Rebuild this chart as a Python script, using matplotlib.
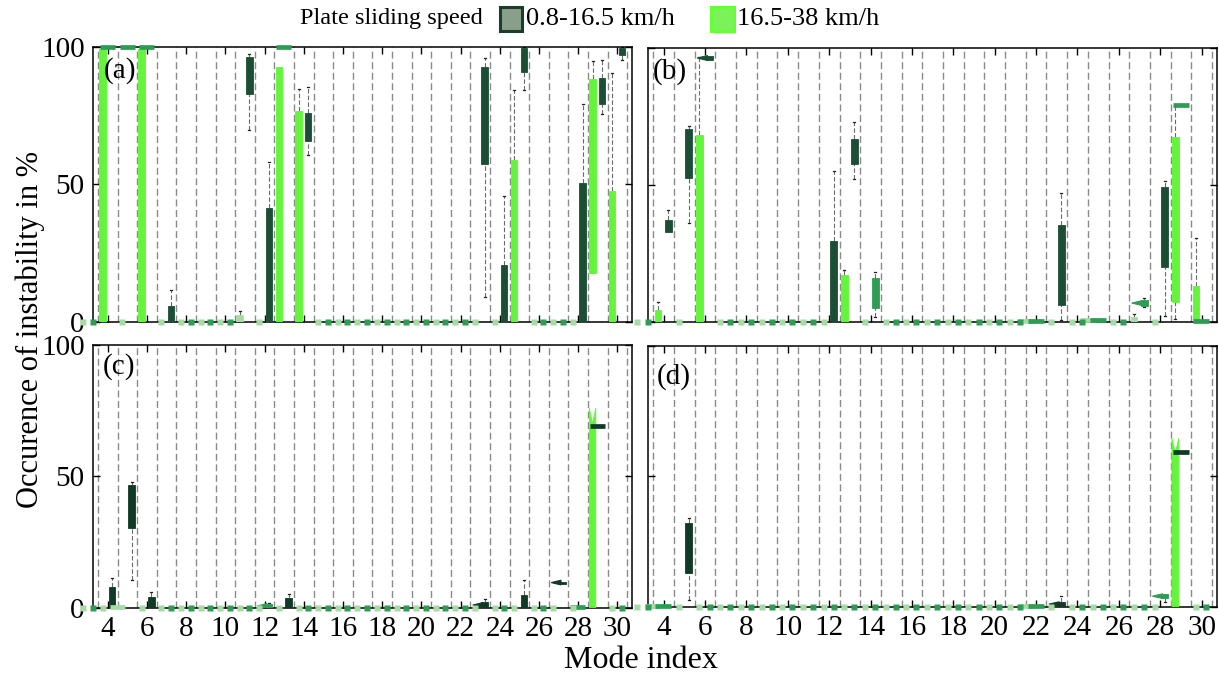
import matplotlib
matplotlib.use("Agg")
import matplotlib.pyplot as plt
from matplotlib.patches import Rectangle, Polygon

plt.rcParams['font.family'] = ['Liberation Serif', 'DejaVu Serif']

MODES = list(range(3, 31))
XTICKS = list(range(4, 31, 2))
YTICKS = [0, 50, 100]

# Boxes as (q1, q3, lower whisker, upper whisker); modes not listed stay at 0 %.
# Panel (a)
A_LOW = {4: (100, 100, 100, 100), 5: (100, 100, 100, 100), 6: (100, 100, 100, 100),
         7: (0, 5.5, 0, 11.5), 11: (83, 96.3, 70, 97.5), 12: (0, 41.5, 0, 58),
         13: (100, 100, 100, 100), 14: (66, 76, 60.6, 85.4), 23: (57.6, 92.7, 9, 96),
         24: (0, 20.7, 0, 45.7), 25: (91, 99.6, 84.4, 100), 28: (0, 50.4, 0, 79.3),
         29: (79.3, 88.8, 75.6, 95.4), 30: (97.2, 99.6, 95.5, 100)}
A_HIGH = {4: (0, 99.3, 0, 99.3), 6: (0, 99.3, 0, 99.3), 11: (0, 2.5, 0, 4),
          13: (0, 92.7, 0, 92.7), 14: (0, 76.8, 0, 84.7), 25: (0, 58.9, 0, 84.4),
          29: (17.7, 88.4, 17.7, 95), 30: (0, 47.7, 0, 90.5)}
# Panel (b)
B_LOW = {4: (32.8, 37.1, 32.8, 41), 5: (52.6, 70.4, 36, 71.6), 6: (95.6, 97.3, 95.4, 97.3),
         12: (0, 29.4, 0, 55), 13: (57.5, 66.7, 52.3, 73), 14: (4.9, 15.9, 1.8, 18.1),
         22: (0.3, 0.3, 0.3, 0.3), 23: (6.1, 35.5, 0.5, 47), 25: (0.5, 0.5, 0.5, 0.5),
         27: (5.8, 7.7, 5.3, 8.6), 28: (20, 49.2, 2, 51.4), 29: (79.2, 79.2, 79.2, 79.2),
         30: (0.3, 0.3, 0.3, 0.3)}
B_HIGH = {4: (0, 4.3, 0, 7), 6: (0, 68.2, 0, 97), 13: (0, 17.1, 0, 19),
          22: (0.3, 0.3, 0.3, 0.3), 25: (0.5, 0.5, 0.5, 0.5), 27: (0, 1.6, 0, 2.8),
          29: (7.3, 67.7, 0.9, 79), 30: (0, 13.1, 0, 30.6)}
# Panel (c)
C_LOW = {4: (0, 8, 0, 11.2), 5: (30.2, 46.7, 10.5, 47.7), 6: (0, 4.2, 0, 5.9),
         12: (0, 1.3, 0, 1.7), 13: (0, 3.6, 0, 5.2), 23: (0, 2, 0, 3.2),
         25: (0, 4.8, 0, 10.5), 27: (9.2, 9.9, 9.2, 9.9), 28: (0.4, 0.4, 0.4, 0.4),
         29: (69.3, 69.3, 69.3, 69.3)}
C_HIGH = {5: (0.3, 0.3, 0.3, 0.3), 29: (0, 72, 0, 72)}
# Panel (d)
D_LOW = {4: (0.4, 0.4, 0.4, 0.4), 5: (13, 32, 2.6, 33.9), 22: (0.3, 0.3, 0.3, 0.3),
         23: (0, 2, 0, 4.1), 28: (3.2, 4.9, 1.9, 4.9), 29: (59.2, 59.2, 59.2, 59.2)}
D_HIGH = {4: (0.3, 0.3, 0.3, 0.3), 22: (0.3, 0.3, 0.3, 0.3), 29: (0, 61, 0, 61)}

# Notch tips poking above a box top (mode -> tip height)
C_HIGH_NOTCH = {29: 76}
D_HIGH_NOTCH = {29: 64.6}
# Boxes whose notch collapses into a flag to the left
B_LOW_FLAG = [6, 27]
C_LOW_FLAG = [12, 23, 27]
D_LOW_FLAG = [23, 28]

DARK_AB = '#1b4e35'
DARK_CD = '#103a25'
LIGHT = '#63f53a'
MID = '#2e9c52'
PALE = '#a6dba6'

# colour overrides for individual boxes
A_LOW_COL = {4: MID, 5: MID, 6: MID, 13: MID}
A_HIGH_COL = {11: PALE}
B_LOW_COL = {14: MID, 22: MID, 25: MID, 27: MID, 29: MID, 30: MID}
B_HIGH_COL = {22: PALE, 25: PALE, 27: PALE}
C_LOW_COL = {12: MID, 28: MID}
C_HIGH_COL = {5: PALE}
D_LOW_COL = {4: MID, 22: MID, 28: MID}
D_HIGH_COL = {4: PALE, 22: PALE}

LOW_OFF, HIGH_OFF, BOX_W = 0.22, -0.27, 0.33
XLIM = (3.245, 30.745)


def draw_series(ax, boxes, offset, base_col, overrides, flags=(), notches=None,
                zero_col=MID):
    notches = notches or {}
    for m in MODES:
        x = m + offset
        if m not in boxes:
            ax.plot([x], [0], 's', ms=4.2, color=zero_col, mec='none',
                    zorder=6, clip_on=False)
            continue
        q1, q3, lo, hi = boxes[m]
        col = overrides.get(m, base_col)
        if q3 - q1 < 0.05:
            ax.plot([x - 0.62, x + 0.15], [q1, q1], color=col, lw=3.4,
                    solid_capstyle='butt', zorder=5, clip_on=False)
            continue
        # whiskers
        wkw = dict(color='#6a6a6a', lw=0.8, ls=(0, (4, 2)), zorder=2)
        if hi > q3 + 0.3:
            ax.plot([x, x], [q3, hi], **wkw)
            ax.plot([x - 0.05, x + 0.05], [hi, hi], color='#222222', lw=0.9, zorder=2)
        if lo < q1 - 0.3:
            ax.plot([x, x], [lo, q1], **wkw)
            ax.plot([x - 0.05, x + 0.05], [lo, lo], color='#222222', lw=0.9, zorder=2)
        if m in notches:
            tip = notches[m]
            poly = Polygon([(x - BOX_W / 2, q1), (x - BOX_W / 2, tip), (x, q3 - 2),
                            (x + BOX_W / 2, tip), (x + BOX_W / 2, q1)],
                           closed=True, facecolor=col, edgecolor=col, lw=0.6, zorder=4)
            ax.add_patch(poly)
        else:
            ax.add_patch(Rectangle((x - BOX_W / 2, q1), BOX_W, q3 - q1,
                                   facecolor=col, edgecolor=col, lw=0.6, zorder=4))
        if m in flags:
            mid = 0.5 * (q1 + q3)
            ax.add_patch(Polygon([(x - 0.6, mid), (x - 0.1, mid + 0.9),
                                  (x - 0.1, mid - 0.9)], closed=True,
                                 facecolor=col, edgecolor=col, lw=0.8, zorder=4))


def style_axes(ax, label, lab_xy, show_x, show_y):
    ax.set_xlim(*XLIM)
    ax.set_ylim(0, 100)
    for b in range(3, 31):
        ax.axvline(b + 0.5, color='#8a8a8a', lw=1.0, dashes=(5, 2.6), zorder=1)
    ax.set_xticks(XTICKS)
    ax.set_yticks(YTICKS)
    ax.tick_params(direction='in', top=True, right=True, length=5, width=1,
                   labelsize=21, pad=6)
    if not show_x:
        ax.set_xticklabels([])
    if not show_y:
        ax.set_yticklabels([])
    for s in ax.spines.values():
        s.set_linewidth(1.1)
        s.set_zorder(3)
    ax.text(lab_xy[0], lab_xy[1], label, transform=ax.transAxes, ha='left', va='top',
            fontsize=21, zorder=8)


fig = plt.figure(figsize=(12.19, 6.77), dpi=100)
ax_a = fig.add_axes([0.0763, 0.5251, 0.4422, 0.4050])
ax_b = fig.add_axes([0.5316, 0.5251, 0.4668, 0.4035])
ax_c = fig.add_axes([0.0763, 0.1024, 0.4422, 0.3880])
ax_d = fig.add_axes([0.5316, 0.1038, 0.4668, 0.3851])

panels = [
    (ax_a, '(a)', (0.020, 0.965), A_LOW, A_HIGH, A_LOW_COL, A_HIGH_COL, [], {},
     DARK_AB, False, True),
    (ax_b, '(b)', (0.008, 0.965), B_LOW, B_HIGH, B_LOW_COL, B_HIGH_COL, B_LOW_FLAG, {},
     DARK_AB, False, False),
    (ax_c, '(c)', (0.018, 0.968), C_LOW, C_HIGH, C_LOW_COL, C_HIGH_COL, C_LOW_FLAG,
     C_HIGH_NOTCH, DARK_CD, True, True),
    (ax_d, '(d)', (0.015, 0.935), D_LOW, D_HIGH, D_LOW_COL, D_HIGH_COL, D_LOW_FLAG,
     D_HIGH_NOTCH, DARK_CD, True, False),
]
for ax, lab, lxy, low, high, lcol, hcol, flags, notch, dark, sx, sy in panels:
    style_axes(ax, lab, lxy, sx, sy)
    draw_series(ax, high, HIGH_OFF, LIGHT, hcol, notches=notch, zero_col=PALE)
    draw_series(ax, low, LOW_OFF, dark, lcol, flags=flags, zero_col=MID)

fig.text(0.025, 0.513, 'Occurence of instability in %', rotation=90,
         ha='center', va='center', fontsize=22)
fig.text(0.526, 0.024, 'Mode index', ha='center', va='center', fontsize=23)

# legend row
fig.text(0.246, 0.972, 'Plate sliding speed', ha='left', va='center', fontsize=17.5)
fig.add_artist(Rectangle((0.4105, 0.9535), 0.0175, 0.0365, transform=fig.transFigure,
                         facecolor='#8a9e8c', edgecolor='#1b3d2b', lw=2.2))
fig.text(0.4315, 0.972, '0.8-16.5 km/h', ha='left', va='center', fontsize=19)
fig.add_artist(Rectangle((0.5830, 0.9535), 0.0190, 0.0365, transform=fig.transFigure,
                         facecolor='#7cf25a', edgecolor='#66ff33', lw=2.2))
fig.text(0.6045, 0.972, '16.5-38 km/h', ha='left', va='center', fontsize=19)

fig.savefig('out.png', dpi=100)
